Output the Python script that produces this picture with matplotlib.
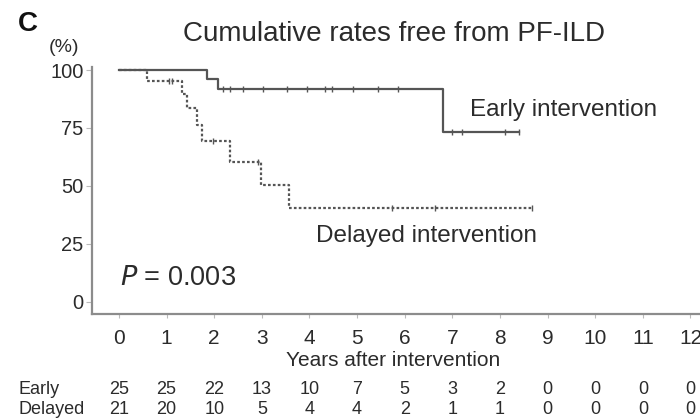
import matplotlib
matplotlib.use("Agg")
import matplotlib.pyplot as plt
import matplotlib.transforms as mtransforms

plt.rcParams['font.family'] = ['Liberation Sans', 'DejaVu Sans']

# Kaplan-Meier steps (years, % free from PF-ILD)
early_times = [0, 1.85, 2.08, 6.8]
early_surv = [100, 96, 91.7, 73.3]
early_end = 8.4
early_censor_t = [2.18, 2.33, 2.6, 3.03, 3.52, 3.95, 4.33, 4.47, 4.92, 5.44, 5.86,
                  7.0, 7.2, 8.1, 8.4]

delayed_times = [0, 0.59, 1.32, 1.43, 1.63, 1.74, 2.33, 2.98, 3.57]
delayed_surv = [100, 95.2, 89.5, 83.5, 76.5, 69.5, 60.5, 50.5, 40.5]
delayed_end = 8.67
delayed_censor_t = [1.05, 1.12, 1.98, 2.92, 5.73, 6.64, 8.67]

years = list(range(0, 13))
yticks = [0, 25, 50, 75, 100]
risk_early = [25, 25, 22, 13, 10, 7, 5, 3, 2, 0, 0, 0, 0]
risk_delayed = [21, 20, 10, 5, 4, 4, 2, 1, 1, 0, 0, 0, 0]

W, H = 700, 419
fig = plt.figure(figsize=(W / 100, H / 100), dpi=100)
ax = fig.add_axes([92 / W, 1 - 314 / H, (W - 92) / W, (314 - 67) / H])


def step_curve(times, surv, end):
    xs = list(times) + [end]
    ys = list(surv) + [surv[-1]]
    return xs, ys


def surv_at(t, times, surv):
    val = surv[0]
    for ti, si in zip(times, surv):
        if t >= ti:
            val = si
    return val


line_col = '#555555'
xs, ys = step_curve(early_times, early_surv, early_end)
ax.step(xs, ys, where='post', color=line_col, lw=1.6, ls='-')
xs, ys = step_curve(delayed_times, delayed_surv, delayed_end)
ax.step(xs, ys, where='post', color=line_col, lw=1.6, ls=(0, (1.2, 1.0)))

ax.plot(early_censor_t, [surv_at(t, early_times, early_surv) for t in early_censor_t],
        ls='none', marker='|', ms=4, mew=1.0, color=line_col)
ax.plot(delayed_censor_t, [surv_at(t, delayed_times, delayed_surv) for t in delayed_censor_t],
        ls='none', marker='|', ms=4, mew=1.0, color=line_col)

ax.set_xlim(-0.567, 12.2)
ax.set_ylim(-5.2, 101.3)
for s in ['top', 'right']:
    ax.spines[s].set_visible(False)
for s in ['left', 'bottom']:
    ax.spines[s].set_color('#8c8c8c')
    ax.spines[s].set_linewidth(1.6)

txt_col = '#2b2b2b'
ax.set_yticks(yticks)
ax.set_xticks(years)
ax.tick_params(axis='y', length=4, width=0.8, color='#bbbbbb', labelsize=14.5,
               labelcolor=txt_col, pad=2)
ax.tick_params(axis='x', length=3, width=0.8, color='#bbbbbb', labelsize=15,
               labelcolor=txt_col, pad=8)

ax.text(7.37, 82.8, 'Early intervention', fontsize=17.5, color=txt_col, va='center', ha='left')
ax.text(4.14, 28.4, 'Delayed intervention', fontsize=17.5, color=txt_col, va='center', ha='left')
ax.text(0.02, 10.3, '$P$ = 0.003', fontsize=19.5, color=txt_col, va='center', ha='left')

fig.text(18 / W, 1 - 24 / H, 'C', fontsize=20, fontweight='bold', color='#111111',
         va='center', ha='left')
fig.text(64 / W, 1 - 48 / H, '(%)', fontsize=14, color=txt_col, va='center', ha='center')
fig.text(394 / W, 1 - 34 / H, 'Cumulative rates free from PF-ILD', fontsize=20,
         color=txt_col, va='center', ha='center')
fig.text(393 / W, 1 - 360 / H, 'Years after intervention', fontsize=15,
         color=txt_col, va='center', ha='center')

# numbers at risk below the axis
trans = mtransforms.blended_transform_factory(ax.transData, fig.transFigure)
fig.text(18 / W, 1 - 389 / H, 'Early', fontsize=13, color=txt_col, va='center', ha='left')
fig.text(18 / W, 1 - 409 / H, 'Delayed', fontsize=13, color=txt_col, va='center', ha='left')
for yr, n in zip(years, risk_early):
    ax.text(yr, 1 - 389 / H, str(n), transform=trans, fontsize=13, color=txt_col,
            va='center', ha='center', clip_on=False)
for yr, n in zip(years, risk_delayed):
    ax.text(yr, 1 - 409 / H, str(n), transform=trans, fontsize=13, color=txt_col,
            va='center', ha='center', clip_on=False)

fig.savefig('out.png', dpi=100, facecolor='white')
